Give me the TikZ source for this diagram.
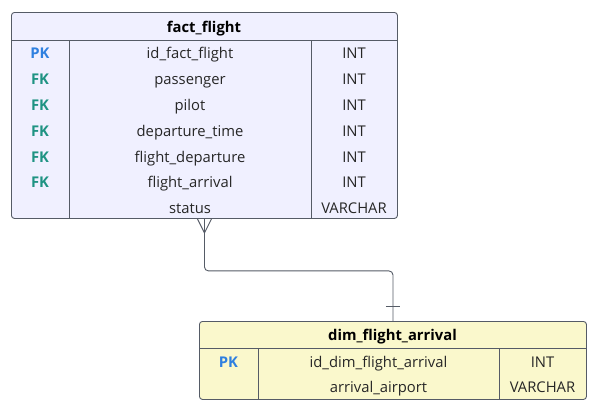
\documentclass[tikz,border=0pt]{standalone}
\usepackage{fontspec}
\setmainfont{Open Sans}
\begin{document}
\begin{tikzpicture}[x=1pt,y=-1pt]
\definecolor{lav}{HTML}{F0F0FF}
\definecolor{yel}{HTML}{FAF8CC}
\definecolor{edge}{HTML}{555B66}
\definecolor{pkc}{HTML}{2F80E0}
\definecolor{fkc}{HTML}{1F9383}
\definecolor{txt}{HTML}{262626}
\tikzset{
  tbl/.style={draw=edge, line width=0.9pt, rounded corners=3pt, anchor=north west, inner sep=0pt},
  grid/.style={draw=edge, line width=0.9pt},
  basecell/.style={inner sep=0pt, anchor=base, yshift=-6.3pt},
  cell/.style={basecell, font=\fontsize{14.8}{16}\selectfont, text=txt},
  hdr/.style={basecell, font=\fontsize{14.8}{16}\selectfont\bfseries, text=black},
  pk/.style={basecell, font=\fontsize{14.8}{16}\selectfont\bfseries, text=pkc},
  fk/.style={basecell, font=\fontsize{14.8}{16}\selectfont\bfseries, text=fkc},
  conn/.style={draw=edge, line width=0.9pt}
}
\useasboundingbox (0,0) rectangle (593,408);
% fact_flight table
\node[tbl, fill=lav, minimum width=386pt, minimum height=206pt] (fact) at (11,12) {};
\draw[grid] (11,40) -- (397,40);
\draw[grid] (69,40) -- (69,218);
\draw[grid] (311,40) -- (311,218);
\node[hdr] (facth) at (204,26) {fact\_flight};
\node[pk] (f1k) at (40,52) {PK};
\node[cell] (f1n) at (190,52) {id\_fact\_flight};
\node[cell] (f1t) at (354,52) {INT};
\node[fk] (f2k) at (40,78) {FK};
\node[cell] (f2n) at (190,78) {passenger};
\node[cell] (f2t) at (354,78) {INT};
\node[fk] (f3k) at (40,104) {FK};
\node[cell] (f3n) at (190,104) {pilot};
\node[cell] (f3t) at (354,104) {INT};
\node[fk] (f4k) at (40,130) {FK};
\node[cell] (f4n) at (190,130) {departure\_time};
\node[cell] (f4t) at (354,130) {INT};
\node[fk] (f5k) at (40,156) {FK};
\node[cell] (f5n) at (190,156) {flight\_departure};
\node[cell] (f5t) at (354,156) {INT};
\node[fk] (f6k) at (40,181) {FK};
\node[cell] (f6n) at (190,181) {flight\_arrival};
\node[cell] (f6t) at (354,181) {INT};
\node[cell] (f7n) at (190,207) {status};
\node[cell] (f7t) at (354,207) {VARCHAR};
% dim_flight_arrival table
\node[tbl, fill=yel, minimum width=387pt, minimum height=78pt] (dim) at (199,321) {};
\draw[grid] (199,348) -- (586,348);
\draw[grid] (258,348) -- (258,399);
\draw[grid] (499,348) -- (499,399);
\node[hdr] (dimh) at (392.5,334.5) {dim\_flight\_arrival};
\node[pk] (d1k) at (228.5,361) {PK};
\node[cell] (d1n) at (378.5,361) {id\_dim\_flight\_arrival};
\node[cell] (d1t) at (542.5,361) {INT};
\node[cell] (d2n) at (378.5,386) {arrival\_airport};
\node[cell] (d2t) at (542.5,386) {VARCHAR};
% connector
\draw[conn, rounded corners=4pt] (fact.south) -- ++(0,52) -| (dim.north);
% crow's foot (many) at fact side
\draw[conn] ([xshift=-7pt]fact.south) -- ([yshift=-14pt]fact.south) -- ([xshift=7pt]fact.south);
% bar (one) at dim side
\draw[conn] ([xshift=-7pt,yshift=15pt]dim.north) -- ([xshift=7pt,yshift=15pt]dim.north);
\end{tikzpicture}
\end{document}
